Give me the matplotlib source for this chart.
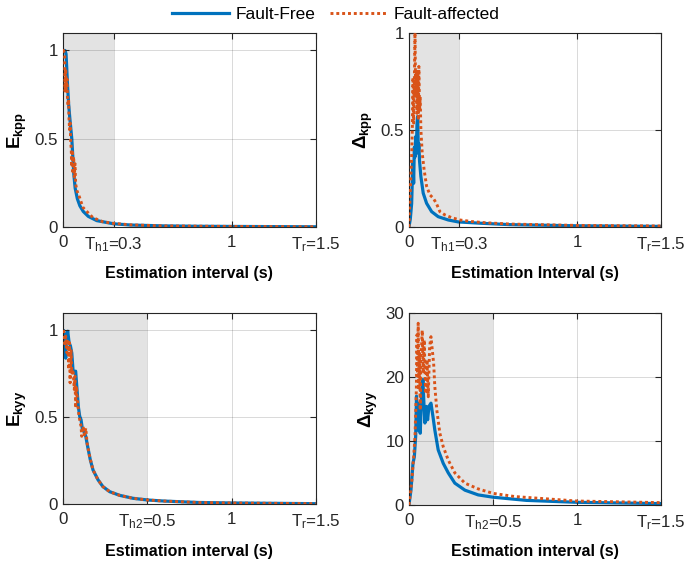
import matplotlib

matplotlib.use("Agg")

import matplotlib.pyplot as plt
import numpy as np

BLUE = "#0072BD"
ORANGE = "#D95319"

# --- E_kpp (top left) ---
ekpp_free_t = [0.0, 0.003, 0.012, 0.018, 0.022, 0.027, 0.033, 0.040, 0.046, 0.052, 0.058, 0.064,
               0.072, 0.085, 0.10, 0.12, 0.15, 0.20, 0.30, 0.40, 0.60, 0.80, 1.0, 1.5]
ekpp_free = [1.0, 1.0, 1.0, 0.98, 0.90, 0.80, 0.70, 0.62, 0.56, 0.50, 0.40, 0.30,
             0.22, 0.16, 0.12, 0.088, 0.06, 0.036, 0.018, 0.011, 0.006, 0.004, 0.003, 0.001]
ekpp_fault_t = [0.0, 0.004, 0.010, 0.012, 0.016, 0.018, 0.024, 0.026, 0.030, 0.033, 0.035, 0.039,
                0.043, 0.045, 0.049, 0.051, 0.055, 0.059, 0.063, 0.067, 0.071, 0.075, 0.082,
                0.098, 0.118, 0.147, 0.177, 0.235, 0.294, 0.40, 0.60, 1.0, 1.5]
ekpp_fault = [1.0, 1.0, 0.97, 0.77, 0.895, 0.78, 0.838, 0.742, 0.685, 0.723, 0.627, 0.551,
              0.589, 0.494, 0.436, 0.341, 0.436, 0.302, 0.398, 0.283, 0.359, 0.245, 0.207,
              0.168, 0.111, 0.082, 0.053, 0.030, 0.021, 0.012, 0.006, 0.003, 0.001]

# --- Delta_kpp (top right) ---
dkpp_free_t = [0.0, 0.008, 0.016, 0.020, 0.024, 0.028, 0.032, 0.036, 0.040, 0.044, 0.048, 0.052,
               0.056, 0.059, 0.063, 0.071, 0.085, 0.105, 0.135, 0.174, 0.234, 0.293, 0.432,
               0.60, 1.0, 1.5]
dkpp_free = [0.0, 0.04, 0.12, 0.24, 0.33, 0.225, 0.41, 0.36, 0.465, 0.40, 0.53, 0.57,
             0.38, 0.43, 0.34, 0.26, 0.174, 0.122, 0.079, 0.053, 0.036, 0.026, 0.019,
             0.012, 0.006, 0.003]
dkpp_fault_t = [0.0, 0.008, 0.016, 0.020, 0.024, 0.028, 0.032, 0.036, 0.040, 0.044, 0.048,
                0.052, 0.056, 0.059, 0.063, 0.067, 0.071, 0.079, 0.091, 0.105, 0.125, 0.145,
                0.164, 0.184, 0.214, 0.254, 0.303, 0.372, 0.451, 0.60, 1.0, 1.5]
dkpp_fault = [0.0, 0.19, 0.36, 0.50, 0.77, 0.535, 0.74, 1.0, 0.67, 0.81, 0.585, 0.79, 0.55,
              0.827, 0.60, 0.67, 0.50, 0.38, 0.29, 0.21, 0.165, 0.148, 0.12, 0.079, 0.062,
              0.048, 0.036, 0.028, 0.022, 0.015, 0.008, 0.005]

# --- E_kyy (bottom left) ---
ekyy_free_t = [0.0, 0.004, 0.012, 0.016, 0.020, 0.028, 0.036, 0.044, 0.052, 0.059, 0.067, 0.075,
               0.083, 0.091, 0.099, 0.107, 0.115, 0.123, 0.135, 0.146, 0.162, 0.178, 0.208,
               0.237, 0.277, 0.336, 0.415, 0.504, 0.60, 0.80, 1.0, 1.5]
ekyy_free = [1.0, 1.0, 0.93, 0.84, 0.967, 0.995, 0.93, 0.91, 0.87, 0.775, 0.755, 0.765,
             0.66, 0.56, 0.505, 0.485, 0.43, 0.42, 0.39, 0.332, 0.254, 0.196, 0.139,
             0.10, 0.071, 0.050, 0.033, 0.023, 0.017, 0.009, 0.006, 0.002]
ekyy_fault_t = [0.0, 0.004, 0.012, 0.016, 0.024, 0.028, 0.034, 0.038, 0.042, 0.048, 0.052,
                0.059, 0.067, 0.071, 0.075, 0.079, 0.087, 0.095, 0.107, 0.111, 0.119, 0.127,
                0.135, 0.143, 0.158, 0.178, 0.208, 0.237, 0.277, 0.336, 0.415, 0.504, 0.60,
                0.80, 1.0, 1.5]
ekyy_fault = [1.0, 0.995, 0.91, 0.967, 0.87, 0.948, 0.775, 0.929, 0.698, 0.89, 0.755,
              0.775, 0.659, 0.736, 0.553, 0.678, 0.582, 0.505, 0.447, 0.39, 0.447, 0.399,
              0.437, 0.351, 0.274, 0.196, 0.139, 0.10, 0.071, 0.050, 0.033, 0.023, 0.017,
              0.009, 0.006, 0.002]

# --- Delta_kyy (bottom right) ---
dkyy_free_t = [0.0, 0.012, 0.024, 0.032, 0.040, 0.045, 0.051, 0.059, 0.067, 0.075, 0.083,
               0.089, 0.095, 0.103, 0.111, 0.119, 0.131, 0.143, 0.154, 0.174, 0.204, 0.234,
               0.273, 0.333, 0.412, 0.50, 0.70, 1.0, 1.5]
dkyy_free = [0.0, 2.3, 6.5, 7.5, 10.7, 17.0, 11.7, 15.9, 11.2, 17.0, 19.6, 15.9, 12.8,
             15.4, 13.3, 15.4, 15.9, 13.8, 11.7, 8.6, 6.5, 5.0, 3.4, 2.3, 1.56, 1.2, 0.7,
             0.4, 0.2]
dkyy_fault_t = [0.0, 0.016, 0.028, 0.036, 0.044, 0.048, 0.051, 0.055, 0.059, 0.063, 0.067,
                0.071, 0.079, 0.085, 0.091, 0.099, 0.107, 0.115, 0.123, 0.131, 0.139, 0.147,
                0.154, 0.166, 0.184, 0.204, 0.234, 0.273, 0.333, 0.412, 0.50, 0.63, 1.0, 1.5]
dkyy_fault = [0.0, 3.4, 7.5, 10.7, 18.0, 26.6, 20.1, 28.4, 18.0, 23.7, 14.8, 22.1, 27.3,
              20.6, 25.8, 17.4, 22.7, 16.9, 24.7, 26.3, 24.2, 22.1, 18.5, 14.8, 11.2, 9.1,
              7.0, 5.0, 3.4, 2.5, 1.8, 1.3, 0.6, 0.35]


def setup_plot_style() -> None:
    plt.rcParams["font.family"] = ["Liberation Sans", "DejaVu Sans"]
    plt.rcParams["mathtext.fontset"] = "custom"
    plt.rcParams["mathtext.rm"] = "Liberation Sans"
    plt.rcParams["mathtext.it"] = "Liberation Sans:italic"
    plt.rcParams["mathtext.bf"] = "Liberation Sans:bold"
    plt.rcParams["axes.edgecolor"] = "#262626"
    plt.rcParams["axes.linewidth"] = 0.8
    plt.rcParams["xtick.direction"] = "in"
    plt.rcParams["ytick.direction"] = "in"
    plt.rcParams["xtick.top"] = True
    plt.rcParams["ytick.right"] = True
    plt.rcParams["xtick.color"] = "#262626"
    plt.rcParams["ytick.color"] = "#262626"
    plt.rcParams["xtick.labelcolor"] = "#262626"
    plt.rcParams["ytick.labelcolor"] = "#262626"
    plt.rcParams["xtick.major.size"] = 4
    plt.rcParams["ytick.major.size"] = 4
    plt.rcParams["xtick.major.pad"] = 6
    plt.rcParams["font.size"] = 12.2


def draw_panel(ax, t_free, y_free, t_fault, y_fault, th, th_name, ylim, yticks, ylabel, xlabel):
    ax.axvspan(0, th, color="#e3e3e3", lw=0, zorder=0)
    ax.plot(t_free, y_free, color=BLUE, lw=2.3, zorder=2)
    ax.plot(t_fault, y_fault, color=ORANGE, lw=2.1, ls=(0, (1, 1)), zorder=3)
    ax.set_xlim(0, 1.5)
    ax.set_ylim(*ylim)
    ax.set_xticks([0, th, 1, 1.5])
    ax.set_xticklabels(["0", rf"$\mathrm{{T_{{{th_name}}}}}$={th}", "1", r"$\mathrm{T_r}$=1.5"])
    ax.set_yticks(yticks)
    ax.set_yticklabels([f"{v:g}" for v in yticks])
    ax.grid(True, color="k", alpha=0.15, lw=0.7, zorder=1)
    ax.set_axisbelow(False)
    ax.set_ylabel(ylabel, fontsize=13.5)
    ax.set_xlabel(xlabel, fontsize=11.5, fontweight="bold", labelpad=9)


def main() -> None:
    setup_plot_style()
    fig = plt.figure(figsize=(6.85, 5.66), dpi=100)

    ax_tl = fig.add_axes([0.092, 0.599, 0.369, 0.343])
    ax_tr = fig.add_axes([0.597, 0.599, 0.368, 0.343])
    ax_bl = fig.add_axes([0.092, 0.1095, 0.369, 0.3375])
    ax_br = fig.add_axes([0.597, 0.108, 0.368, 0.339])

    draw_panel(ax_tl, ekpp_free_t, ekpp_free, ekpp_fault_t, ekpp_fault, 0.3, "h1",
               (0, 1.1), [0, 0.5, 1], r"$\mathbf{E_{kpp}}$", "Estimation interval (s)")
    draw_panel(ax_tr, dkpp_free_t, dkpp_free, dkpp_fault_t, dkpp_fault, 0.3, "h1",
               (0, 1.0), [0, 0.5, 1], r"$\mathbf{\Delta_{kpp}}$", "Estimation Interval (s)")
    draw_panel(ax_bl, ekyy_free_t, ekyy_free, ekyy_fault_t, ekyy_fault, 0.5, "h2",
               (0, 1.1), [0, 0.5, 1], r"$\mathbf{E_{kyy}}$", "Estimation interval (s)")
    draw_panel(ax_br, dkyy_free_t, dkyy_free, dkyy_fault_t, dkyy_fault, 0.5, "h2",
               (0, 30), [0, 10, 20, 30], r"$\mathbf{\Delta_{kyy}}$", "Estimation interval (s)")

    handles = ax_tl.get_lines()[:2]
    fig.legend(handles, ["Fault-Free", "Fault-affected"], loc="upper center",
               bbox_to_anchor=(0.49, 1.015), ncol=2, frameon=False, handlelength=3.3,
               columnspacing=0.8, handletextpad=0.4, fontsize=12.5)

    fig.savefig("out.png", dpi=100)
    plt.close(fig)


if __name__ == "__main__":
    main()
